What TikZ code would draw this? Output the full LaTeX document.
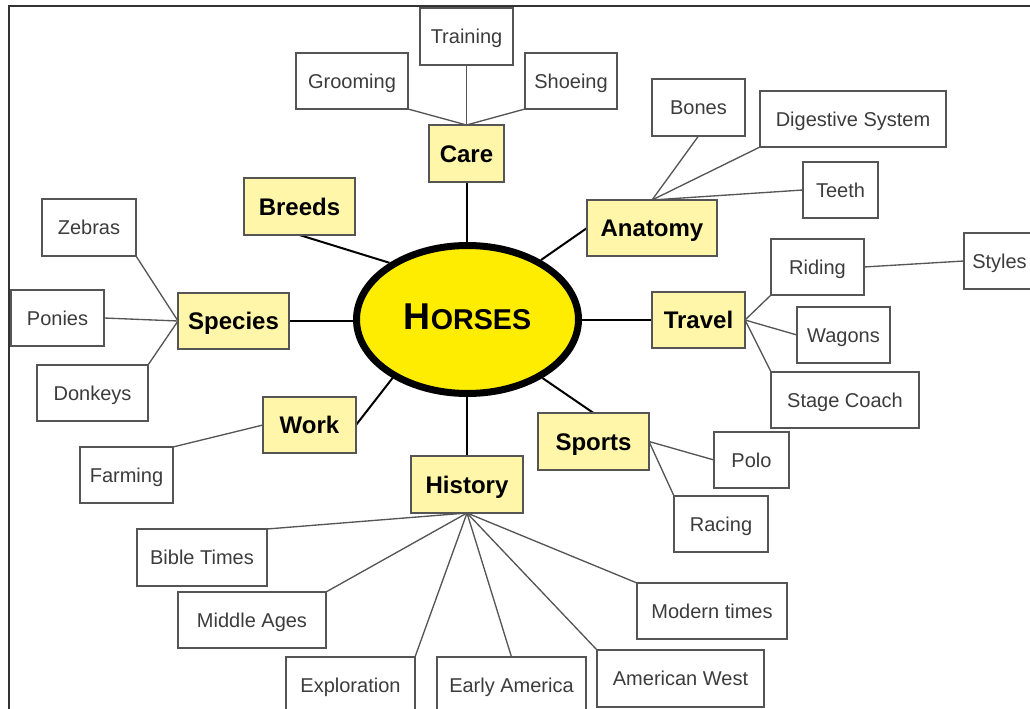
\documentclass[tikz,border=0pt]{standalone}
\usepackage{fontspec}
\setmainfont{Liberation Sans}
\usetikzlibrary{shapes.geometric,backgrounds}

\definecolor{catfill}{RGB}{255,246,170}
\definecolor{hubfill}{RGB}{255,237,0}
\definecolor{edgegray}{RGB}{85,85,85}
\definecolor{leaftext}{RGB}{60,60,60}

% box from its corners (x1,y1)-(x2,y2), in pixel units
\newcommand\mapbox[7]{\node[#2, minimum width={(#5-#3)*0.75pt}, minimum height={(#6-#4)*0.75pt}] (#1) at ({(#3+#5)/2},{(#4+#6)/2}) {#7};}

\begin{document}
\begin{tikzpicture}[x=0.75pt,y=-0.75pt,
  leaf/.style={draw=edgegray, line width=1.1pt, fill=white, inner sep=0pt, outer sep=0pt,
    text=leaftext, font=\fontsize{15}{18}\selectfont, text height=10.7pt, text depth=0pt},
  topic/.style={draw=edgegray, line width=1.1pt, fill=catfill, inner sep=0pt, outer sep=0pt,
    text=black, font=\bfseries\fontsize{18}{21}\selectfont, text height=12.9pt, text depth=0pt},
  spoke/.style={draw=black, line width=1.5pt},
  twig/.style={draw=edgegray, line width=1pt}]

\useasboundingbox (0,0) rectangle (1030,709);
\clip (0,0) rectangle (1030,709);

% frame
\draw[line width=1.6pt, color=black!80] (9,720) -- (9,6) -- (1040,6);

% central topic
\node[ellipse, draw=black, line width=5.25pt, fill=hubfill, minimum width=166.5pt,
  minimum height=111pt, inner sep=0pt, text height=20pt, text depth=5pt,
  font=\bfseries] (horses) at (467.5,319.5)
  {\fontsize{28}{30}\selectfont H\fontsize{21.5}{24}\selectfont ORSES};

% main branches
\mapbox{care}{topic}{429}{125}{504}{182}{Care}
\mapbox{breeds}{topic}{244}{178}{355}{235}{Breeds}
\mapbox{anatomy}{topic}{587}{200}{717}{256}{Anatomy}
\mapbox{travel}{topic}{652}{292}{745}{348}{Travel}
\mapbox{sports}{topic}{538}{413}{649}{470}{Sports}
\mapbox{species}{topic}{178}{293}{289}{349}{Species}
\mapbox{work}{topic}{263}{397}{356}{453}{Work}
\mapbox{history}{topic}{411}{456}{523}{513}{History}

% sub-topics
\mapbox{grooming}{leaf}{296}{53}{408}{109}{Grooming}
\mapbox{training}{leaf}{420}{8}{513}{65}{Training}
\mapbox{shoeing}{leaf}{525}{53}{617}{109}{Shoeing}
\mapbox{bones}{leaf}{652}{79}{745}{136}{Bones}
\mapbox{digestive}{leaf}{760}{91}{946}{147}{Digestive System}
\mapbox{teeth}{leaf}{803}{162}{878}{218}{Teeth}
\mapbox{riding}{leaf}{771}{239}{864}{295}{Riding}
\mapbox{styles}{leaf}{964}{233}{1035}{289}{Styles}
\mapbox{wagons}{leaf}{797}{307}{890}{363}{Wagons}
\mapbox{stage}{leaf}{771}{372}{919}{428}{Stage Coach}
\mapbox{polo}{leaf}{714}{432}{789}{488}{Polo}
\mapbox{racing}{leaf}{674}{496}{768}{552}{Racing}
\mapbox{zebras}{leaf}{42}{199}{136}{256}{Zebras}
\mapbox{ponies}{leaf}{11}{290}{104}{346}{Ponies}
\mapbox{donkeys}{leaf}{37}{365}{148}{421}{Donkeys}
\mapbox{farming}{leaf}{80}{447}{173}{503}{Farming}
\mapbox{bible}{leaf}{137}{529}{267}{586}{Bible Times}
\mapbox{middle}{leaf}{178}{592}{326}{648}{Middle Ages}
\mapbox{exploration}{leaf}{286}{657}{415}{714}{Exploration}
\mapbox{early}{leaf}{437}{657}{586}{714}{Early America}
\mapbox{american}{leaf}{597}{650}{764}{707}{American West}
\mapbox{modern}{leaf}{637}{583}{787}{639}{Modern times}

\begin{pgfonlayer}{background}
  % spokes from the centre
  \draw[spoke] (care.south) -- (care.south |- horses.north);
  \draw[spoke] (breeds.south) -- (horses.144);
  \draw[spoke] (anatomy.west) -- (horses.39);
  \draw[spoke] (travel.west) -- (travel.west -| horses.east);
  \draw[spoke] (sports.north) -- (horses.322);
  \draw[spoke] (species.east) -- (species.east -| horses.west);
  \draw[spoke] (work.east) -- (horses.218);
  \draw[spoke] (history.north) -- (history.north |- horses.south);

  % twigs to the sub-topics
  \draw[twig] (care.north) -- (grooming.south east);
  \draw[twig] (care.north) -- (training.south);
  \draw[twig] (care.north) -- (shoeing.south west);
  \draw[twig] (anatomy.north) -- (bones.south);
  \draw[twig] (anatomy.north) -- (digestive.south west);
  \draw[twig] (anatomy.north) -- (teeth.west);
  \draw[twig] (travel.east) -- (riding.south west);
  \draw[twig] (travel.east) -- (wagons.west);
  \draw[twig] (travel.east) -- (stage.north west);
  \draw[twig] (riding.east) -- (styles.west);
  \draw[twig] (sports.east) -- (polo.west);
  \draw[twig] (sports.east) -- (racing.north west);
  \draw[twig] (species.west) -- (zebras.south east);
  \draw[twig] (species.west) -- (ponies.east);
  \draw[twig] (species.west) -- (donkeys.north east);
  \draw[twig] (work.west) -- (farming.north east);
  \draw[twig] (history.south) -- (bible.north east);
  \draw[twig] (history.south) -- (middle.north east);
  \draw[twig] (history.south) -- (exploration.north east);
  \draw[twig] (history.south) -- (early.north);
  \draw[twig] (history.south) -- (american.north west);
  \draw[twig] (history.south) -- (modern.north west);
\end{pgfonlayer}
\end{tikzpicture}
\end{document}
